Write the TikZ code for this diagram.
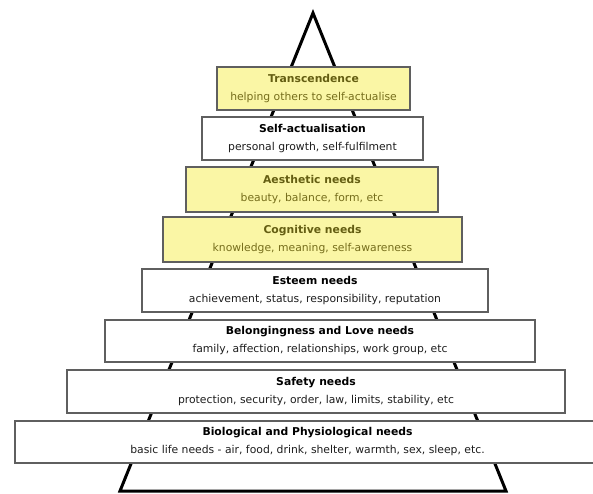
\documentclass[tikz,border=0pt]{standalone}
\usepackage{fontspec}
\setmainfont{DejaVu Sans}
\definecolor{yfill}{RGB}{250,246,165}
\definecolor{ytit}{RGB}{100,94,18}
\definecolor{ysub}{RGB}{118,110,28}
\definecolor{bord}{RGB}{95,95,95}
\definecolor{wsub}{RGB}{30,30,30}
\begin{document}
\begin{tikzpicture}[x=1pt,y=-1pt,
  tri/.style={line width=3pt,line join=miter},
  lvl/.style={draw=bord,line width=2.2pt,inner sep=0pt,align=center,
    font=\fontsize{10.8}{18}\selectfont},
  ybox/.style={lvl,fill=yfill},
  wbox/.style={lvl,fill=white}]
\useasboundingbox (0,0) rectangle (593,494);
\clip (0,0) rectangle (593,494);
\coordinate (apex) at (313,13);
\coordinate (bl) at (120,491);
\coordinate (br) at (506,491);
\draw[tri] (apex) -- (bl) -- (br) -- cycle;
\node[ybox,minimum width=193pt,minimum height=43pt] (trans) at (313.5,88.5)
  {{\color{ytit}\bfseries Transcendence}\\{\color{ysub}helping others to self-actualise}};
\node[wbox,minimum width=221pt,minimum height=43pt] (selfact) at (312.5,138.5)
  {\textbf{Self-actualisation}\\{\color{wsub}personal growth, self-fulfilment}};
\node[ybox,minimum width=252pt,minimum height=45pt] (aest) at (312,189.5)
  {{\color{ytit}\bfseries Aesthetic needs}\\{\color{ysub}beauty, balance, form, etc}};
\node[ybox,minimum width=299pt,minimum height=45pt] (cogn) at (312.5,239.5)
  {{\color{ytit}\bfseries Cognitive needs}\\{\color{ysub}knowledge, meaning, self-awareness}};
\node[wbox,minimum width=346pt,minimum height=43pt] (esteem) at (315,290.5)
  {\textbf{Esteem needs}\\{\color{wsub}achievement, status, responsibility, reputation}};
\node[wbox,minimum width=430pt,minimum height=42pt] (belong) at (320,341)
  {\textbf{Belongingness and Love needs}\\{\color{wsub}family, affection, relationships, work group, etc}};
\node[wbox,minimum width=498pt,minimum height=43pt] (safety) at (316,391.5)
  {\textbf{Safety needs}\\{\color{wsub}protection, security, order, law, limits, stability, etc}};
\node[wbox,minimum width=585pt,minimum height=42pt] (bio) at (307.5,442)
  {\textbf{Biological and Physiological needs}\\{\color{wsub}basic life needs - air, food, drink, shelter, warmth, sex, sleep, etc.}};
\end{tikzpicture}
\end{document}
